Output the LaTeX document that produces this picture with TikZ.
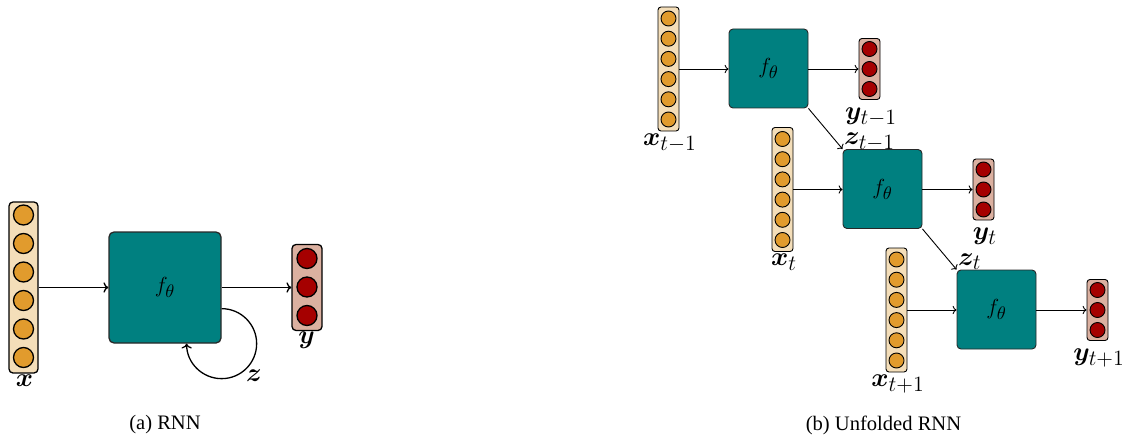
\documentclass[tikz,border=0pt]{standalone}
\usepackage{amsmath,bm,graphicx}
\usepackage[no-math]{fontspec}
\setmainfont{Liberation Serif}
\usetikzlibrary{arrows.meta}

% large subscripts in the cell and vector labels
\DeclareMathSizes{12}{12}{10}{8}
\DeclareMathSizes{13.5}{13.5}{11.5}{9}

\definecolor{xfill}{RGB}{244,222,185}
\definecolor{xdotc}{RGB}{225,155,45}
\definecolor{yfill}{RGB}{219,176,160}
\definecolor{ydotc}{RGB}{165,0,0}
\definecolor{tealc}{RGB}{0,128,128}
\definecolor{edge}{RGB}{40,40,40}

% text is set at ordinary sizes and enlarged to the picture's scale
\newcommand{\enl}[1]{\scalebox{1.82}{#1}}

\tikzset{
  vecbar/.style={draw=black, inner sep=0pt, rounded corners=4pt},
  xbar/.style={vecbar, fill=xfill},
  ybar/.style={vecbar, fill=yfill},
  xdot/.style={circle, draw=black, fill=xdotc, inner sep=0pt},
  ydot/.style={circle, draw=black, fill=ydotc, inner sep=0pt},
  fbox/.style={draw=edge, fill=tealc, inner sep=0pt},
  arr/.style={-{To[scale=1.1]}},
  cellfont/.style={font=\fontsize{12}{14}\selectfont},
  lbl/.style={inner sep=0pt, font=\fontsize{14.4}{17}\selectfont},
  slbl/.style={inner sep=0pt, font=\fontsize{13.5}{16}\selectfont},
  caption/.style={font=\fontsize{11.3}{13}\selectfont}
}

\begin{document}
\begin{tikzpicture}[x=1pt,y=-1pt]
\useasboundingbox (0,0) rectangle (1126,441);

% ---------- (a) recurrent cell ----------
\begin{scope}[line width=1.3pt]
  \node[xbar, minimum width=29, minimum height=171] (xa) at (23.5,287.5) {};
  \foreach \i in {0,...,5}
    \node[xdot, minimum size=20] (xa-\i) at (23.5,215+28.5*\i) {};
  \node[fbox, rounded corners=5pt, minimum width=112, minimum height=111, cellfont] (fa) at (165,287.5) {\enl{$f_\theta$}};
  \node[ybar, minimum width=30, minimum height=86] (ya) at (307,287.5) {};
  \foreach \i in {0,1,2}
    \node[ydot, minimum size=20] (ya-\i) at (307,258.5+28.5*\i) {};
  \draw[arr] (xa.east) -- (fa.west);
  \draw[arr] (fa.east) -- (ya.west);
  \draw[arr] ([yshift=35pt]fa.south east) arc[start angle=90, end angle=-180, radius=35pt];
\end{scope}
\node[lbl] (xal) at (24.5,381) {\enl{$\bm{x}$}};
\node[lbl, anchor=north] (yal) at (306.5,332) {\enl{$\bm{y}$}};
\node[lbl] (zal) at (254,376) {\enl{$\bm{z}$}};
\node[caption] (capa) at (165,425) {\enl{(a) RNN}};

% ---------- (b) unfolded in time ----------
\begin{scope}[line width=0.9pt]
\foreach \k/\s in {0/{t-1},1/t,2/{t+1}}{
  \begin{scope}[shift={(114*\k,120.5*\k)}]
    \node[xbar, rounded corners=3pt, minimum width=21, minimum height=124] (xr\k) at (668.5,69) {};
    \foreach \i in {0,...,5}
      \node[xdot, minimum size=15] (xr\k-\i) at (668.5,18.5+20.2*\i) {};
    \node[fbox, rounded corners=4pt, minimum width=79, minimum height=79, cellfont] (fr\k) at (768.5,68.5) {\enl{$f_\theta$}};
    \node[ybar, rounded corners=3pt, minimum width=21, minimum height=61] (yr\k) at (869.5,69) {};
    \foreach \i in {0,1,2}
      \node[ydot, minimum size=15] (yr\k-\i) at (869.5,49+20*\i) {};
    \draw[arr] (xr\k.east) -- (xr\k.east -| fr\k.west);
    \draw[arr] (fr\k.east |- yr\k.west) -- (yr\k.west);
    \node[slbl, anchor=north] (xl\k) at (670,133) {\enl{$\bm{x}_{\s}$}};
    \node[slbl, anchor=north] (yl\k) at (871,107) {\enl{$\bm{y}_{\s}$}};
  \end{scope}
}
\draw[arr] (fr0.south east) -- (fr1.north west);
\draw[arr] (fr1.south east) -- (fr2.north west);
\end{scope}
\node[slbl, anchor=north west] (zl0) at (844,133) {\enl{$\bm{z}_{t-1}$}};
\node[slbl, anchor=north west] (zl1) at (958,253.5) {\enl{$\bm{z}_{t}$}};
\node[caption] (capb) at (883.5,425) {\enl{(b) Unfolded RNN}};
\end{tikzpicture}
\end{document}
